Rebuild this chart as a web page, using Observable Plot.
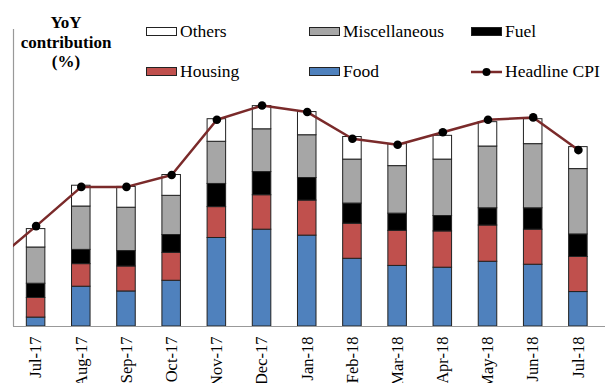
<!DOCTYPE html>
<html><head><meta charset="utf-8">
<script src="https://cdn.jsdelivr.net/npm/d3@7"></script>
<script src="https://cdn.jsdelivr.net/npm/@observablehq/plot@0.6"></script>
<style>
body{margin:0;background:#fff;}
#wrap{position:relative;width:605px;height:383px;font-family:"Liberation Serif",serif;color:#000;overflow:hidden;}
#chart svg, #chart svg text{font-family:"Liberation Serif",serif !important;}
#title{position:absolute;left:16px;top:13px;width:100px;text-align:center;font-weight:bold;font-size:17px;line-height:19.5px;}
.leg{position:absolute;font-size:17.5px;line-height:18px;white-space:nowrap;}
.sw{display:inline-block;width:29px;height:7px;border:1px solid #222;vertical-align:middle;margin-right:3px;position:relative;top:-1px;}
.ln{display:inline-block;width:31px;height:18px;vertical-align:middle;margin-right:3px;position:relative;top:-1px;}
</style></head><body>
<div id="wrap">
<div id="chart"></div>
<div id="title">YoY<br>contribution<br>(%)</div>
<div id="legend"></div>
</div>
<script>
const months = ["Jul-17","Aug-17","Sep-17","Oct-17","Nov-17","Dec-17","Jan-18","Feb-18","Mar-18","Apr-18","May-18","Jun-18","Jul-18"];
const food    = [0.15,0.67,0.59,0.77,1.49,1.63,1.53,1.14,1.02,0.99,1.09,1.04,0.58];
const housing = [0.33,0.38,0.42,0.47,0.52,0.58,0.59,0.59,0.59,0.61,0.61,0.59,0.59];
const fuel    = [0.24,0.24,0.26,0.30,0.39,0.39,0.38,0.34,0.29,0.26,0.29,0.36,0.38];
const misc    = [0.61,0.73,0.73,0.66,0.71,0.72,0.72,0.74,0.80,0.95,1.04,1.08,1.10];
const others  = [0.31,0.35,0.35,0.35,0.38,0.39,0.39,0.38,0.37,0.40,0.41,0.42,0.37];
const headline = [1.69,2.35,2.35,2.55,3.48,3.72,3.61,3.16,3.06,3.27,3.48,3.52,2.97];
const headlinePrev = 1.05; // Jun-17, only the line's entry segment is visible

const categories = ["Food","Housing","Fuel","Miscellaneous","Others"];
const colors = ["#4F81BD","#C0504D","#000000","#A6A6A6","#FFFFFF"];
const seriesByCat = {Food: food, Housing: housing, Fuel: fuel, Miscellaneous: misc, Others: others};

// stacked table
const rows = [];
months.forEach((m, i) => {
  let acc = 0;
  categories.forEach(c => {
    const v = seriesByCat[c][i];
    rows.push({i, month: m, cat: c, y1: acc, y2: acc + v});
    acc += v;
  });
});
const lineData = [{i: -1, v: headlinePrev}, ...headline.map((v, i) => ({i, v}))];
const dotData = headline.map((v, i) => ({i, v}));
const halfBar = 0.205;

const chart = Plot.plot({
  width: 605, height: 383,
  marginLeft: 13, marginRight: 0, marginTop: 29, marginBottom: 57,
  x: {type: "linear", domain: [-0.5, 12.6], axis: null},
  y: {domain: [0, 5], axis: null},
  color: {domain: categories, range: colors},
  style: {fontFamily: "'Liberation Serif', serif", background: "white"},
  marks: [
    Plot.rect(rows, {x1: d => d.i - halfBar, x2: d => d.i + halfBar, y1: "y1", y2: "y2", fill: "cat", stroke: "#222", strokeWidth: 1}),
    Plot.ruleY([0], {stroke: "#999", strokeWidth: 1.2}),
    Plot.ruleX([-0.5], {stroke: "#999", strokeWidth: 1.2}),
    Plot.line(lineData, {x: "i", y: "v", stroke: "#7A2A2A", strokeWidth: 2.5, clip: true}),
    Plot.dot(dotData, {x: "i", y: "v", r: 4.3, fill: "#000", stroke: "none"}),
    Plot.axisX(d3.range(months.length), {tickFormat: i => months[i], tickRotate: -90, tickSize: 0, tickPadding: 10, fontSize: 16.5, fontFamily: "'Liberation Serif', serif", fill: "#000", label: null})
  ]
});
document.getElementById("chart").appendChild(chart);

// legend
const legendItems = [
  {label: "Others", kind: "box", color: "#FFFFFF", x: 146, y: 22},
  {label: "Miscellaneous", kind: "box", color: "#A6A6A6", x: 309, y: 22},
  {label: "Fuel", kind: "box", color: "#000000", x: 471, y: 22},
  {label: "Housing", kind: "box", color: "#C0504D", x: 146, y: 62},
  {label: "Food", kind: "box", color: "#4F81BD", x: 309, y: 62},
  {label: "Headline CPI", kind: "line", color: "#7A2A2A", x: 471, y: 62}
];
const leg = document.getElementById("legend");
legendItems.forEach(it => {
  const d = document.createElement("div");
  d.className = "leg";
  d.style.left = it.x + "px";
  d.style.top = it.y + "px";
  if (it.kind === "box") {
    d.innerHTML = `<span class="sw" style="background:${it.color}"></span>${it.label}`;
  } else {
    d.innerHTML = `<svg class="ln" viewBox="0 0 31 18"><line x1="0" y1="9" x2="31" y2="9" stroke="${it.color}" stroke-width="2.5"/><circle cx="15.5" cy="9" r="4" fill="#000"/></svg>${it.label}`;
  }
  leg.appendChild(d);
});
</script>
</body></html>
